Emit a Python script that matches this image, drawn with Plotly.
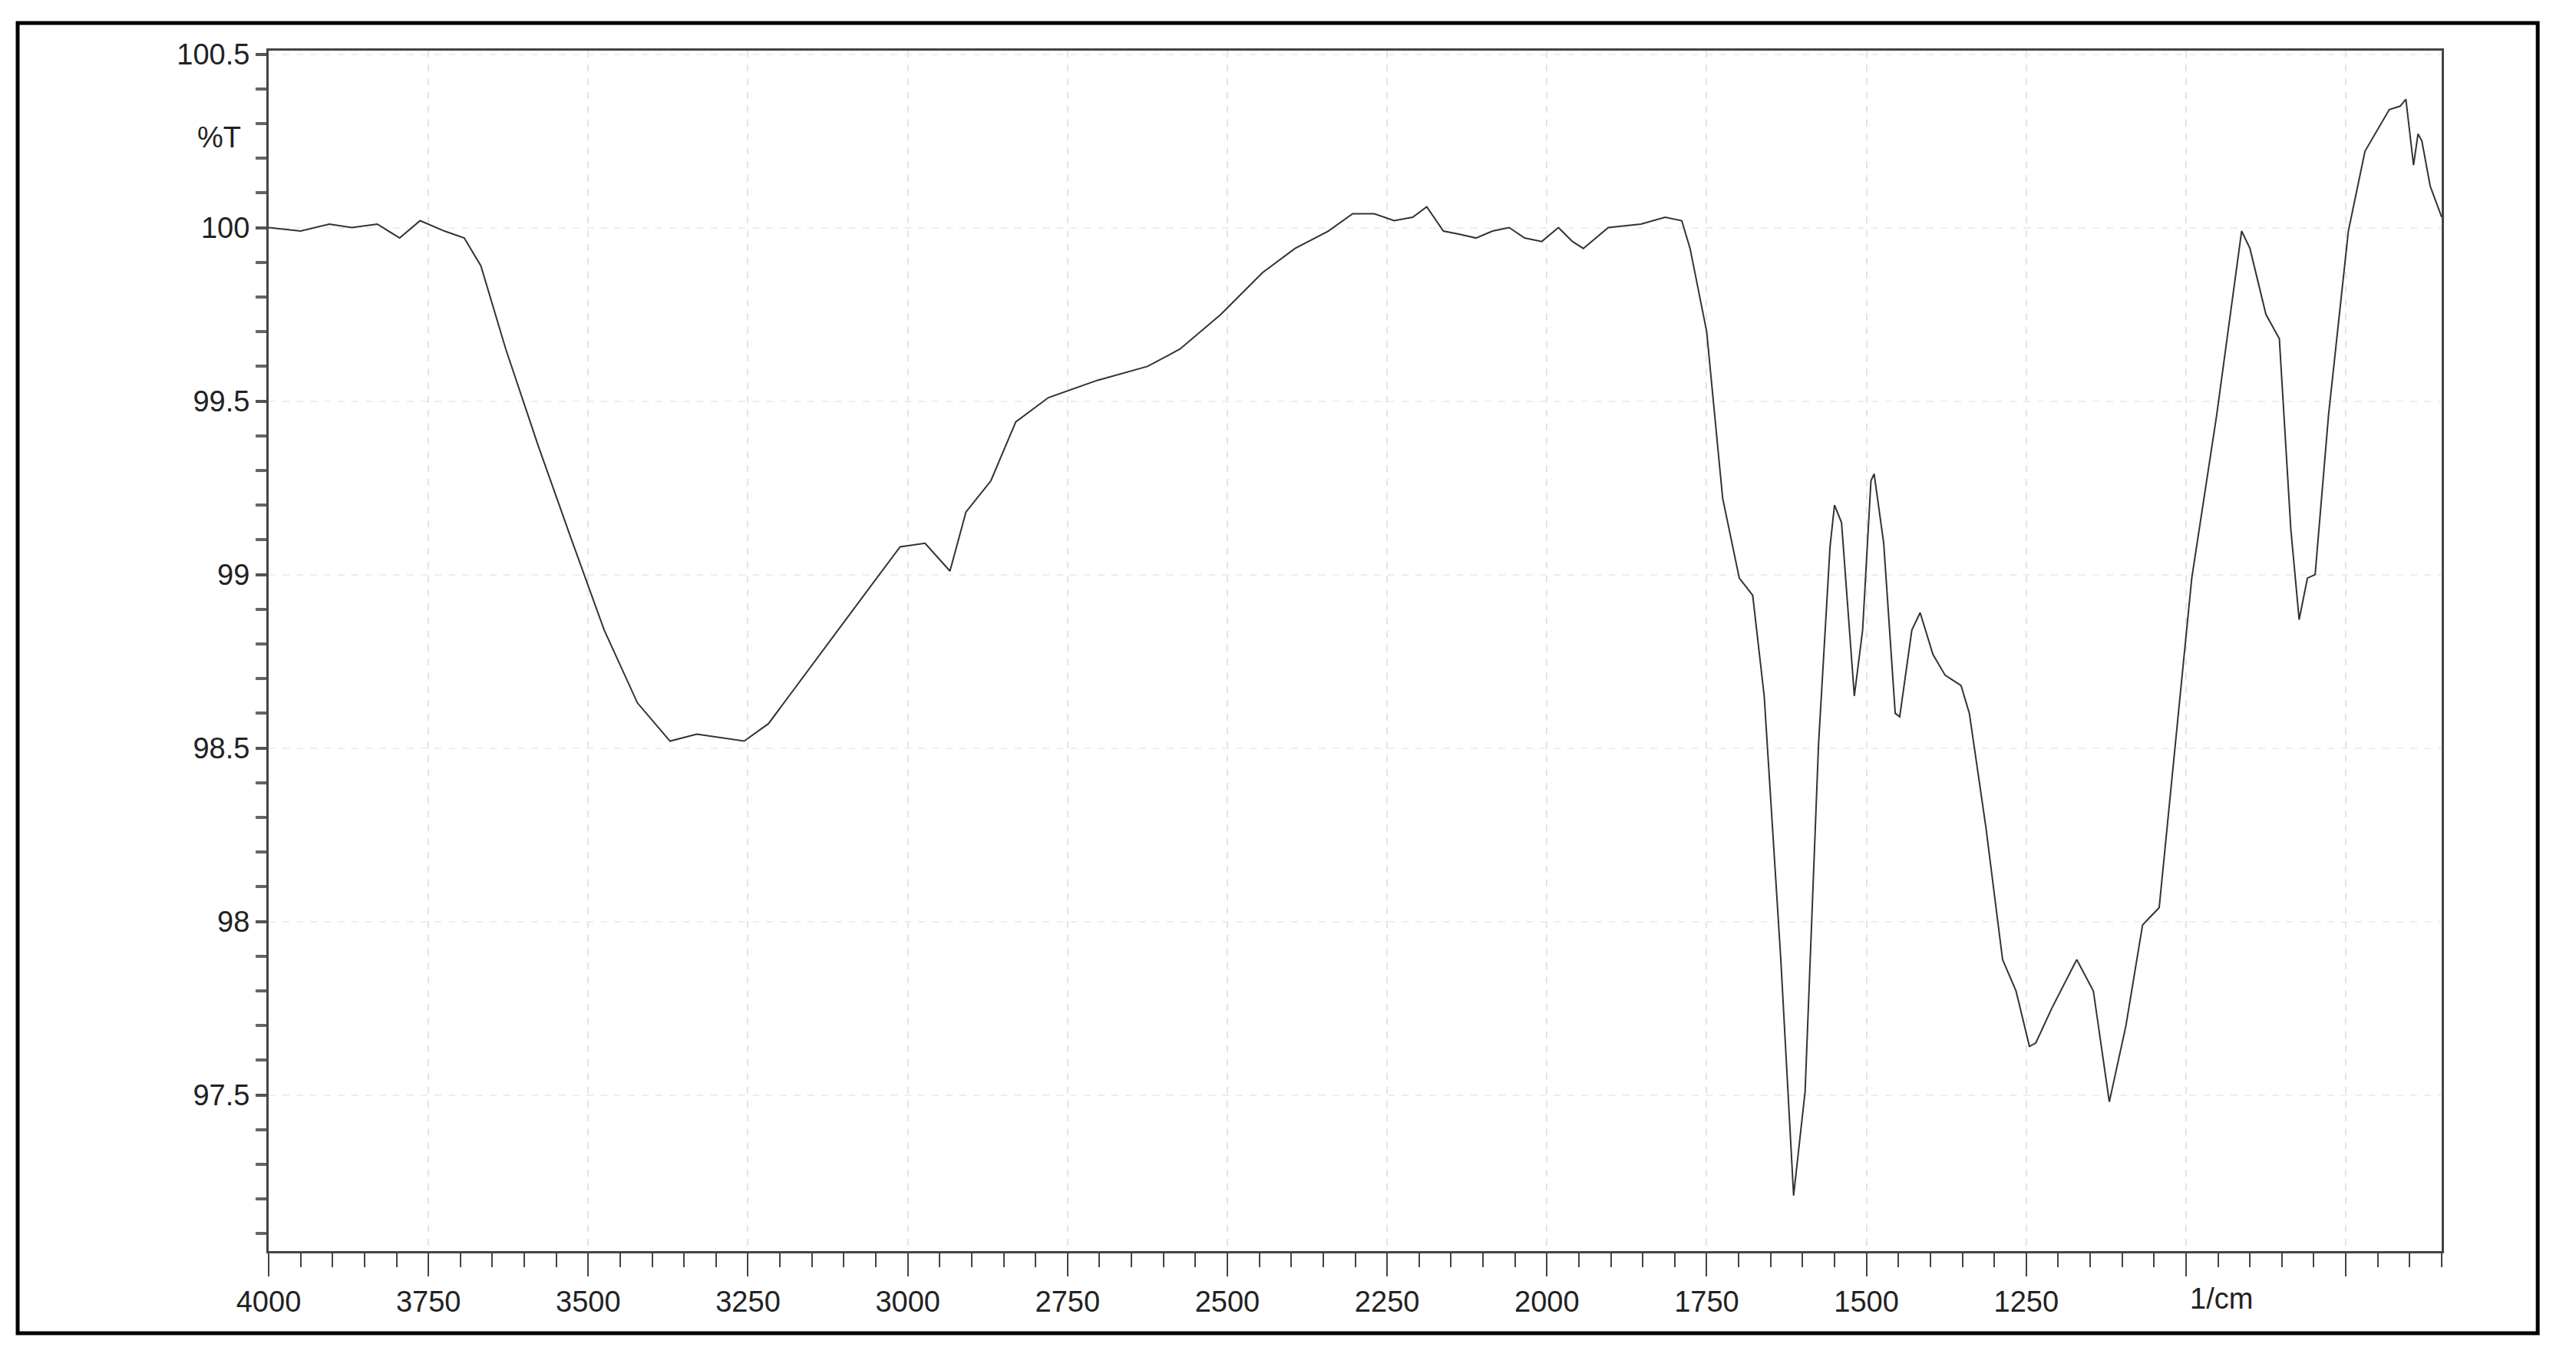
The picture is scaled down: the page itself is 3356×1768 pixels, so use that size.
import plotly.graph_objects as go

wavenumber = [4000, 3950, 3905, 3870, 3830, 3795, 3763, 3725, 3694, 3668, 3629, 3578, 3526, 3475, 3423, 3372,
              3330, 3295, 3256, 3218, 3166, 3089, 3012, 2973, 2934, 2909, 2870, 2831, 2780, 2703, 2625, 2574,
              2510, 2445, 2394, 2342, 2304, 2270, 2239, 2210, 2188, 2162, 2135, 2111, 2085, 2059, 2035, 2008,
              1982, 1960, 1943, 1904, 1853, 1815, 1789, 1776, 1750, 1725, 1699, 1678, 1660, 1634, 1614, 1596,
              1575, 1557, 1550, 1539, 1519, 1506, 1493, 1488, 1473, 1455, 1448, 1429, 1416, 1396, 1377, 1352,
              1339, 1313, 1287, 1266, 1245, 1235, 1210, 1171, 1145, 1120, 1094, 1068, 1042, 991, 952, 913,
              900, 875, 854, 836, 823, 810, 798, 777, 746, 720, 682, 665, 656, 644, 637, 631, 618, 600]
transmittance = [100.0, 99.99, 100.01, 100.0, 100.01, 99.97, 100.02, 99.99, 99.97, 99.89, 99.65, 99.37, 99.10, 98.84, 98.63, 98.52,
                 98.54, 98.53, 98.52, 98.57, 98.70, 98.89, 99.08, 99.09, 99.01, 99.18, 99.27, 99.44, 99.51, 99.56, 99.60, 99.65,
                 99.75, 99.87, 99.94, 99.99, 100.04, 100.04, 100.02, 100.03, 100.06, 99.99, 99.98, 99.97, 99.99, 100.0, 99.97, 99.96,
                 100.0, 99.96, 99.94, 100.0, 100.01, 100.03, 100.02, 99.94, 99.70, 99.22, 98.99, 98.94, 98.65, 97.89, 97.21, 97.51,
                 98.51, 99.08, 99.20, 99.15, 98.65, 98.84, 99.27, 99.29, 99.09, 98.60, 98.59, 98.84, 98.89, 98.77, 98.71, 98.68,
                 98.60, 98.27, 97.89, 97.80, 97.64, 97.65, 97.75, 97.89, 97.80, 97.48, 97.70, 97.99, 98.04, 98.99, 99.46, 99.99,
                 99.94, 99.75, 99.68, 99.13, 98.87, 98.99, 99.00, 99.46, 99.99, 100.22, 100.34, 100.35, 100.37, 100.18, 100.27, 100.25, 100.12, 100.03]

x_major = [4000, 3750, 3500, 3250, 3000, 2750, 2500, 2250, 2000, 1750, 1500, 1250, 1000, 750]
x_labels = ["4000", "3750", "3500", "3250", "3000", "2750", "2500", "2250", "2000", "1750", "1500", "1250", "", ""]
y_major = [97.5, 98, 98.5, 99, 99.5, 100, 100.5]
y_labels = ["97.5", "98", "98.5", "99", "99.5", "100", "100.5"]

fig = go.Figure(go.Scatter(x=wavenumber, y=transmittance, mode="lines",
                           line=dict(color="#333333", width=2), showlegend=False))

fig.update_xaxes(range=[4000, 600], tickmode="array", tickvals=x_major, ticktext=x_labels,
                 ticks="outside", ticklen=30, tickwidth=2, tickcolor="#444",
                 showline=True, linecolor="#444", linewidth=3, mirror=True,
                 showgrid=True, gridcolor="#e4e4e4", griddash="dash", gridwidth=2, zeroline=False,
                 tickfont=dict(family="Liberation Sans", size=38, color="#222"),
                 minor=dict(tickmode="linear", tick0=0, dtick=50, ticks="outside", ticklen=18,
                            tickwidth=2, tickcolor="#444", showgrid=False))
fig.update_yaxes(range=[97.05, 100.51], tickmode="array", tickvals=y_major, ticktext=y_labels,
                 ticks="outside", ticklen=14, tickwidth=4, tickcolor="#555",
                 showline=True, linecolor="#444", linewidth=3, mirror=True,
                 showgrid=True, gridcolor="#eeeeee", griddash="dash", gridwidth=2, zeroline=False,
                 tickfont=dict(family="Liberation Sans", size=38, color="#222"),
                 minor=dict(tickmode="linear", tick0=0, dtick=0.1, ticks="outside", ticklen=14,
                            tickwidth=4, tickcolor="#666", showgrid=False))

fig.add_annotation(x=-0.012, y=100.26, xref="paper", yref="y", text="%T", showarrow=False,
                   xanchor="right", font=dict(family="Liberation Sans", size=38, color="#222"))
fig.add_annotation(x=945, y=-0.025, xref="x", yref="paper", text="1/cm", showarrow=False,
                   yanchor="top", font=dict(family="Liberation Sans", size=38, color="#222"))
fig.add_shape(type="rect", xref="paper", yref="paper", x0=-0.1155, x1=1.0442, y0=-0.0684, y1=1.023,
              line=dict(color="black", width=5))

fig.update_layout(width=3356, height=1768, paper_bgcolor="white", plot_bgcolor="white",
                  margin=dict(l=342, r=183, t=58, b=146))
fig.write_html("out.html")
